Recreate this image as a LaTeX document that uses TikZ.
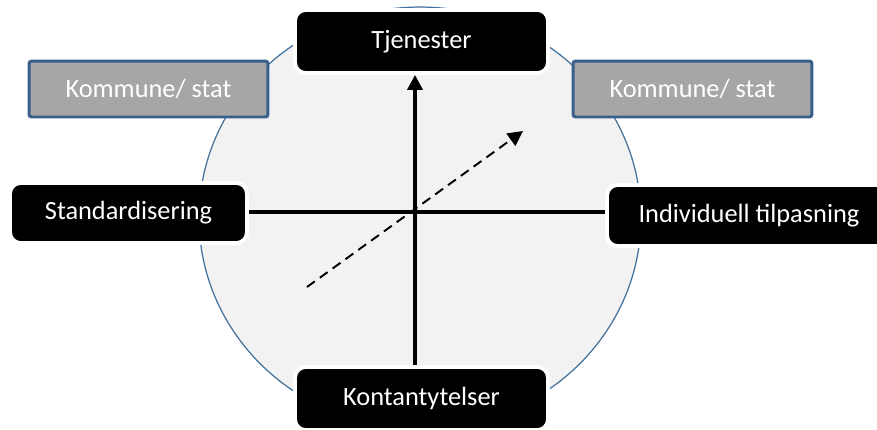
\documentclass[tikz,border=0pt]{standalone}
\usepackage{fontspec}
\setmainfont{Carlito}
\usetikzlibrary{arrows.meta,positioning,calc}
\definecolor{DiscFill}{HTML}{F2F2F2}
\definecolor{DiscLine}{HTML}{41719C}
\definecolor{GovFill}{HTML}{A6A6A6}
\definecolor{GovLine}{HTML}{3A5F8A}

\begin{document}
\begin{tikzpicture}[x=0.02cm,y=-0.02cm]
    \tikzset{blk/.style={rounded corners=6pt,fill=black,draw=white,line width=2.2pt,text=white,minimum height=1.26cm,align=center,font=\fontsize{15}{18}\selectfont},
      gov/.style={rounded corners=1.5pt,fill=GovFill,draw=GovLine,line width=1.7pt,text=white,minimum width=4.78cm,minimum height=1.12cm,font=\fontsize{15}{18}\selectfont},
      axis/.style={line width=2pt,-{Triangle[length=0.3cm,width=0.3cm]}}}
    \useasboundingbox (0,0) rectangle (877,430);
    \clip (0,0) rectangle (877,430);
    \fill[white] (0,0) rectangle (877,430);
    \draw[fill=DiscFill,draw=DiscLine,line width=0.7pt] (420,218) ellipse [x radius=4.42cm,y radius=4.22cm];
    \coordinate (o) at (415,212);
    \coordinate (da) at (307,287);
    \coordinate (db) at (523,131);
    \node[blk,minimum width=5.06cm] (tjen) at (421.5,41.5) {Tjenester};
    \node[blk,minimum width=5.06cm] (kont) at (421.5,398.5) {Kontantytelser};
    \node[blk,minimum width=4.74cm,minimum height=1.2cm] (stand) at (128.5,213) {Standardisering};
    \node[blk,minimum width=5.68cm,minimum height=1.22cm] (indiv) at (749,215.5) {Individuell tilpasning};
    \node[gov] (komL) at (148.5,89) {Kommune/ stat};
    \node[gov] (komR) at (692.5,89) {Kommune/ stat};
    \draw[axis] (kont.north -| o) -- (tjen.south -| o);
    \draw[line width=2pt] (stand.east |- o) -- (indiv.west |- o);
    \draw[line width=1.1pt,dash pattern=on 5.5pt off 3.5pt,-{Triangle[length=0.3cm,width=0.3cm]}] (da) -- (db);
  \end{tikzpicture}
\end{document}
